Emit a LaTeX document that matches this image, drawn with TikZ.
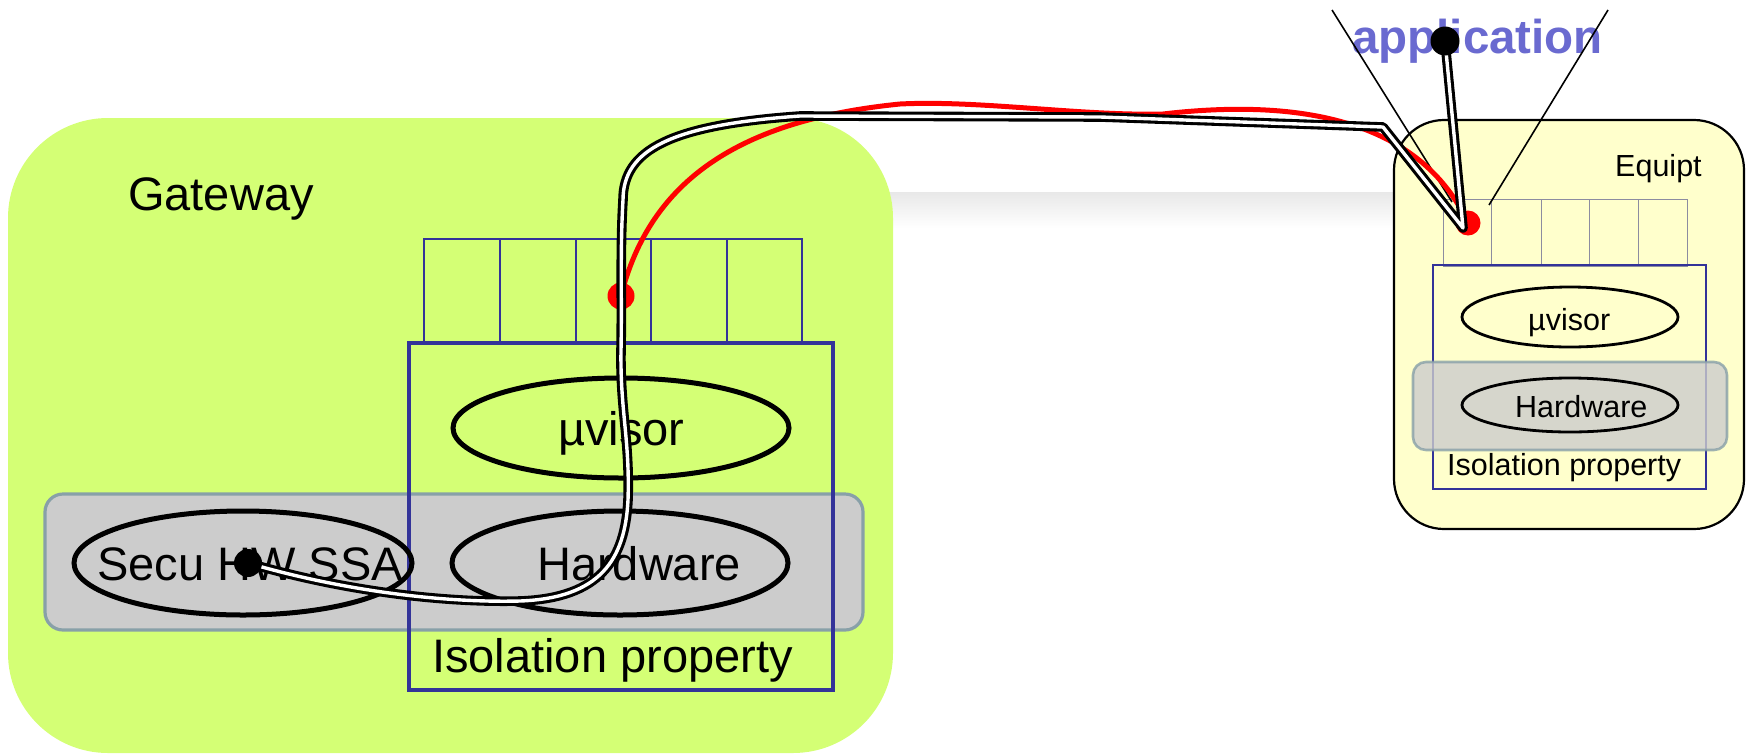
\documentclass[tikz,border=0pt]{standalone}
\usepackage{fontspec}
\setmainfont{Liberation Sans}
\usetikzlibrary{shapes.geometric}
\definecolor{gwgreen}{RGB}{212,255,117}
\definecolor{eqyellow}{RGB}{255,255,204}
\definecolor{isoblue}{RGB}{51,51,153}
\definecolor{hwgrey}{RGB}{204,204,204}
\definecolor{hwborder}{RGB}{136,160,168}
\definecolor{appblue}{RGB}{106,106,208}
\definecolor{cellgrey}{RGB}{140,140,160}
\begin{document}
\begin{tikzpicture}[x=1pt,y=-1pt,
  bigtext/.style={font=\fontsize{47}{56}\selectfont, inner sep=0, anchor=base west},
  smalltext/.style={font=\fontsize{30.5}{36}\selectfont, inner sep=0, anchor=base west},
  bigell/.style={ellipse, draw=black, line width=5pt, inner sep=0},
  smallell/.style={ellipse, draw=black, line width=2.8pt, inner sep=0},
  dotnode/.style={circle, inner sep=0, draw=none},
  wire/.style={double=white, double distance=3.4pt, line width=3.1pt, draw=black, line join=round},
  redwire/.style={red, line width=5pt},
  hwband/.style={fill=hwgrey, draw=hwborder, line width=3.2pt, rounded corners=18pt},
]
\useasboundingbox (0,0) rectangle (1750,753);

% shadow band between the two boxes
\shade[top color=black!9, bottom color=white] (880,192) rectangle (1400,228);

% ---------------- Gateway ----------------
\fill[gwgreen, rounded corners=100pt] (8,118) rectangle (893,753);
\node[bigtext] (gwlabel) at (128,210) {Gateway};

% cells
\draw[isoblue, line width=1.6pt] (424,239) rectangle (802,343);
\foreach \x in {500,576,651,727} \draw[isoblue, line width=1.6pt] (\x,239) -- (\x,343);

% hardware band
\draw[hwband] (45,494) rectangle (863,630);

% isolation box
\draw[isoblue, line width=3.8pt] (409,343) rectangle (833,690);

\node[bigell, minimum width=336pt, minimum height=100pt] (uvL) at (621,428) {};
\node[bigell, minimum width=338pt, minimum height=104pt] (secu) at (243,563) {};
\node[bigell, minimum width=336pt, minimum height=104pt] (hwL) at (620,563) {};

\node[bigtext] (uvLtext) at (558,445) {µvisor};
\node[bigtext] (secutext) at (97,580) {Secu HW SSA};
\node[bigtext] (hwLtext) at (537,580) {Hardware};
\node[bigtext] (isoLtext) at (432,672) {Isolation property};

% ---------------- Equipment ----------------
\draw[fill=eqyellow, draw=black, line width=2.2pt, rounded corners=50pt] (1394,120) rectangle (1744,529);
\node[smalltext] (eqlabel) at (1615,176) {Equipt};

\draw[cellgrey, line width=1pt] (1443,199) rectangle (1687,266);
\foreach \x in {1491,1541,1589,1638} \draw[cellgrey, line width=1pt] (\x,199) -- (\x,266);

\draw[isoblue, line width=2.4pt] (1433,265) rectangle (1706,489);
\node[smallell, minimum width=216pt, minimum height=60pt] (uvR) at (1570,317) {};
\fill[hwgrey, fill opacity=0.8, draw=hwborder, draw opacity=0.8, line width=2.6pt, rounded corners=13pt] (1413,362) rectangle (1727,450);
\node[smallell, minimum width=216pt, minimum height=54pt] (hwR) at (1570,405) {};

\node[smalltext] (uvRtext) at (1528,330) {µvisor};
\node[smalltext] (hwRtext) at (1515,417) {Hardware};
\node[smalltext] (isoRtext) at (1447,475) {Isolation property};

% application
\node[font=\fontsize{47.5}{56}\selectfont\bfseries, text=appblue, inner sep=0, anchor=base west] (app) at (1352,53) {application};
\coordinate (coneLtop) at (1332,10);
\coordinate (coneLbot) at (1452,202);
\coordinate (coneRtop) at (1608,10);
\coordinate (coneRbot) at (1489,205);
\draw[line width=1.6pt] (coneLtop) -- (coneLbot);
\draw[line width=1.6pt] (coneRtop) -- (coneRbot);

% ---------------- wires ----------------
\node[dotnode, fill=red, minimum size=27pt] (rdL) at (621,296) {};
\node[dotnode, fill=red, minimum size=25pt] (rdR) at (1468,223) {};
\coordinate (secupt) at (248,563);
\coordinate (apppt) at (1445,41);
\coordinate (bend1) at (1383,127);
\coordinate (bend2) at (1463,228);

\draw[redwire] (rdL.center) .. controls (650,180) and (740,120) .. (900,104)
  .. controls (980,100) and (1080,116) .. (1163,114)
  .. controls (1300,98) and (1420,120) .. (rdR.center);

\draw[wire] (secupt) .. controls (340,590) and (440,603) .. (520,601)
  .. controls (600,598) and (625,560) .. (628,500)
  .. controls (630,440) and (620,410) .. (621,350)
  .. controls (622,300) and (620,250) .. (623,200)
  .. controls (623,150) and (670,125) .. (800,116)
  -- (1100,117) -- (bend1) -- (bend2) -- (apppt);

\node[dotnode, fill=black, minimum size=28pt] (secudot) at (secupt) {};
\node[dotnode, fill=black, minimum size=29pt] (appdot) at (apppt) {};
\end{tikzpicture}
\end{document}
